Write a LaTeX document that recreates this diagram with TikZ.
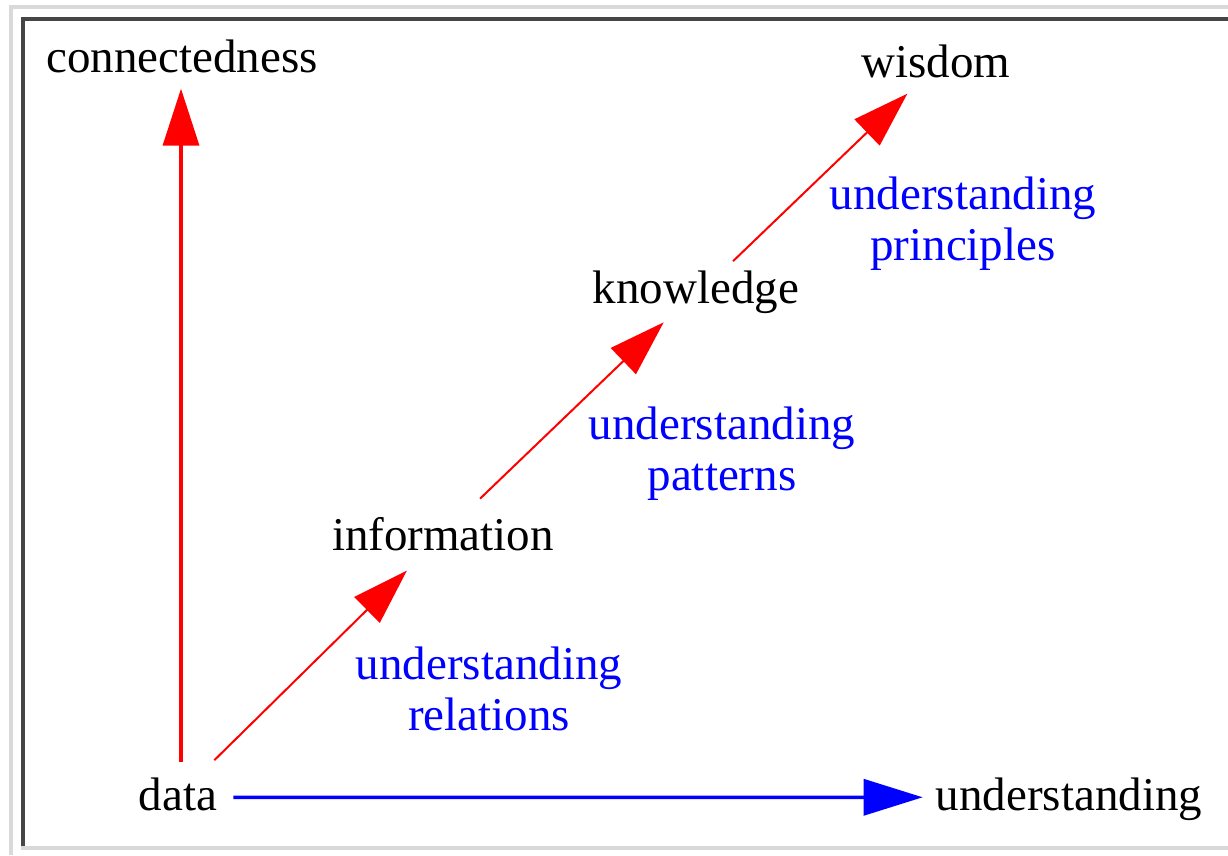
\documentclass[tikz,border=0pt]{standalone}
\usepackage{fontspec}
\setmainfont{Liberation Serif}
\usetikzlibrary{arrows.meta,calc}
\definecolor{frameLight}{RGB}{217,217,217}
\definecolor{frameDark}{RGB}{70,70,70}
\definecolor{pureRed}{RGB}{255,0,0}
\definecolor{pureBlue}{RGB}{0,0,255}
\begin{document}
\begin{tikzpicture}[x=1pt,y=-1pt,
  word/.style={inner sep=0pt, anchor=base, font=\fontsize{47}{51}\selectfont},
  bluelabel/.style={inner sep=0pt, anchor=north, align=center, text=pureBlue, font=\fontsize{47}{51}\selectfont},
  redaxis/.style={draw=pureRed, line width=3.5pt, -{Triangle[length=57pt,width=36pt]}},
  blueaxis/.style={draw=pureBlue, line width=3.5pt, -{Triangle[length=59pt,width=36pt]}},
  redstep/.style={draw=pureRed, line width=2pt, -{Triangle[length=56pt,width=36pt]}}
]
\useasboundingbox (0,0) rectangle (1228,855);
% frame
\fill[frameLight] (9,5) rectangle (1228,9);
\fill[frameLight] (9,5) rectangle (13,855);
\fill[frameDark] (21,17) rectangle (1228,21);
\fill[frameDark] (21,17) rectangle (25,846);
\fill[frameLight] (21,846) rectangle (1228,850);
% words
\node[word] (connectedness) at (182,72) {connectedness};
\node[word] (wisdom) at (936,77) {wisdom};
\node[word] (knowledge) at (696,303) {knowledge};
\node[word] (information) at (443,550) {information};
\node[word] (data) at (178,810) {data};
\node[word] (understanding) at (1069,810) {understanding};
% blue labels
\node[bluelabel] (relations) at (489,647) {understanding\\relations};
\node[bluelabel] (patterns) at (722,407) {understanding\\patterns};
\node[bluelabel] (principles) at (963,177) {understanding\\principles};
% arrows
\draw[redaxis] ([xshift=3pt,yshift=15pt]data.north) -- ([xshift=-1pt,yshift=-16pt]connectedness.south);
\draw[blueaxis] ([xshift=16pt,yshift=-3.5pt]data.east) -- ([xshift=-13pt,yshift=1.5pt]understanding.west);
\draw[redstep] ([xshift=-3pt,yshift=17pt]data.north east) -- ([xshift=75pt,yshift=-20pt]information.south west);
\draw[redstep] ([xshift=37pt,yshift=18pt]information.north) -- ([xshift=71pt,yshift=-9pt]knowledge.south west);
\draw[redstep] ([xshift=37pt,yshift=9pt]knowledge.north) -- ([xshift=46pt,yshift=-16pt]wisdom.south west);
\end{tikzpicture}
\end{document}
